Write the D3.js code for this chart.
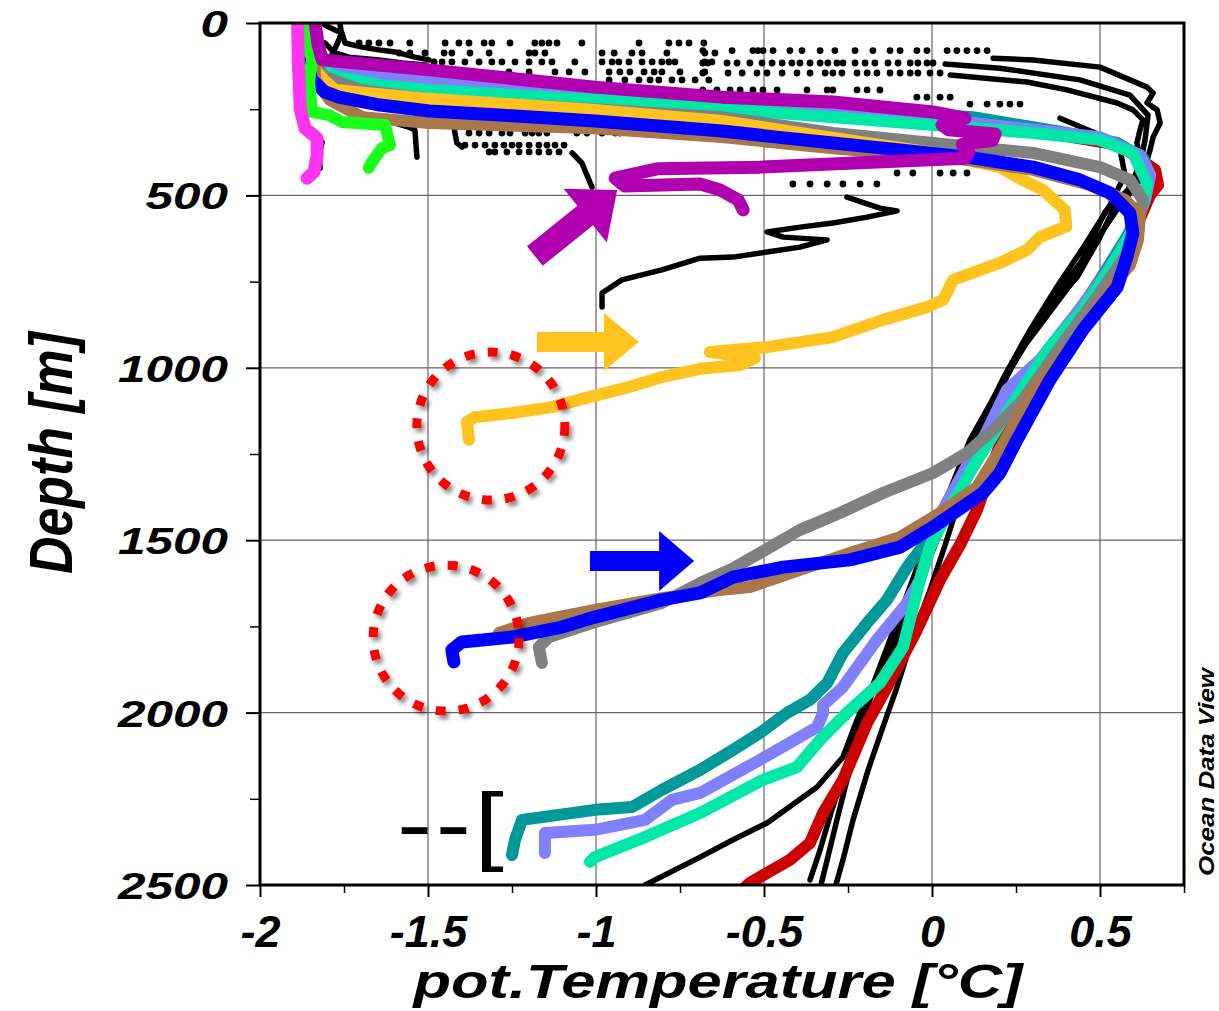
<!DOCTYPE html>
<html>
<head>
<meta charset="utf-8">
<script src="https://cdn.jsdelivr.net/npm/d3@7"></script>
<style>
  body { margin: 0; background: #fff; }
  text { font-family: "Liberation Sans", Arial, sans-serif; font-weight: bold; font-style: italic; }
</style>
</head>
<body>
<div id="chart"></div>
<script>
// axis ticks
var xMajor = [-2, -1.5, -1, -0.5, 0, 0.5];
var xMinor = [-1.75, -1.25, -0.75, -0.25, 0.25, 0.75];
var yMajor = [0, 500, 1000, 1500, 2000, 2500];
var yMinor = [250, 750, 1250, 1750, 2250];

// profiles: [pot. temperature degC, depth m]
var pinkProfile = [[-1.888,0],[-1.886,110],[-1.880,250],[-1.866,305],[-1.830,334],[-1.830,383],[-1.839,432],[-1.860,450]];
var greenProfile = [[-1.854,0],[-1.860,72],[-1.845,101],[-1.854,171],[-1.845,258],[-1.795,267],[-1.756,287],[-1.628,296],[-1.613,354],[-1.637,363],[-1.667,403],[-1.676,420]];
var purpleProfile = [[-1.836,0],[-1.827,64],[-1.815,107],[-1.497,136],[-1.003,186],[-0.625,215],[-0.295,229],[0.003,258],[0.098,276],[0.030,296],[0.050,310],[0.188,322],[0.180,340],[0.090,352],[0.110,375],[0.100,392],[-0.214,405],[-0.512,418],[-0.818,423],[-0.943,450],[-0.914,473],[-0.690,467],[-0.631,484],[-0.577,513],[-0.562,542]];
var tealProfile = [[-1.857,0],[-1.836,64],[-1.807,107],[-1.762,136],[-1.548,171],[-1.003,209],[-0.625,229],[-0.214,252],[0.122,273],[0.402,319],[0.551,348],[0.628,392],[0.649,441],[0.634,513],[0.583,615],[0.5,745],[0.402,890],[0.283,1044],[0.164,1201],[0.083,1325],[0.003,1479],[-0.074,1578],[-0.134,1673],[-0.193,1740],[-0.265,1827],[-0.312,1914],[-0.363,1963],[-0.432,2001],[-0.512,2059],[-0.592,2108],[-0.690,2166],[-0.804,2224],[-0.893,2274],[-1.003,2282],[-1.220,2311],[-1.241,2369],[-1.25,2413]];
var periwinkleProfile = [[-1.845,0],[-1.821,107],[-1.792,142],[-1.497,171],[-1.256,189],[-1.003,215],[-0.625,238],[-0.095,267],[0.173,296],[0.5,331],[0.619,383],[0.649,441],[0.634,513],[0.589,615],[0.515,731],[0.426,847],[0.321,977],[0.223,1064],[0.158,1195],[0.098,1296],[0.024,1427],[-0.036,1615],[-0.074,1682],[-0.164,1789],[-0.265,1926],[-0.324,1978],[-0.324,2001],[-0.342,2042],[-0.512,2137],[-0.690,2233],[-0.774,2253],[-0.854,2311],[-1.003,2340],[-1.152,2349],[-1.152,2407]];
var aquaProfile = [[-1.845,0],[-1.827,107],[-1.792,151],[-1.643,180],[-1.497,194],[-1.003,223],[-0.690,244],[-0.193,281],[0.301,319],[0.5,339],[0.598,377],[0.640,464],[0.628,528],[0.589,615],[0.530,716],[0.449,832],[0.351,940],[0.253,1085],[0.173,1209],[0.122,1288],[0.045,1421],[-0.006,1520],[-0.036,1615],[-0.086,1810],[-0.155,1914],[-0.244,1992],[-0.333,2079],[-0.402,2158],[-0.503,2195],[-0.690,2291],[-0.854,2361],[-1.003,2419],[-1.018,2433]];
var grayProfile = [[-1.851,0],[-1.845,107],[-1.807,157],[-1.702,194],[-1.497,222],[-1.003,250],[-0.625,273],[-0.295,319],[0.003,348],[0.301,377],[0.5,418],[0.589,455],[0.628,513],[0.613,586],[0.574,679],[0.5,783],[0.381,940],[0.271,1093],[0.182,1180],[0.104,1247],[0.003,1305],[-0.146,1363],[-0.274,1421],[-0.393,1470],[-0.512,1537],[-0.601,1586],[-0.690,1624],[-0.804,1682],[-1.012,1740],[-1.140,1781],[-1.170,1810],[-1.161,1856]];
var yellowProfile = [[-1.851,0],[-1.836,136],[-1.810,165],[-1.777,194],[-1.497,220],[-1.003,252],[-0.625,284],[-0.393,319],[-0.193,348],[0.003,377],[0.202,418],[0.253,447],[0.330,484],[0.395,542],[0.400,590],[0.321,621],[0.283,658],[0.202,696],[0.063,745],[0.033,803],[-0.015,824],[-0.146,861],[-0.295,911],[-0.491,940],[-0.661,954],[-0.527,972],[-0.571,992],[-0.690,1003],[-0.804,1027],[-0.902,1056],[-1.021,1085],[-1.131,1114],[-1.25,1131],[-1.360,1143],[-1.384,1157],[-1.378,1209]];
var brownProfile = [[-1.842,0],[-1.836,165],[-1.792,223],[-1.696,273],[-1.497,290],[-1.003,305],[-0.625,331],[-0.295,363],[0.104,397],[0.301,426],[0.470,470],[0.574,513],[0.619,557],[0.613,629],[0.589,702],[0.539,760],[0.440,905],[0.301,1064],[0.202,1238],[0.134,1346],[0.024,1421],[-0.095,1491],[-0.244,1537],[-0.393,1586],[-0.542,1636],[-0.625,1644],[-0.804,1668],[-1.003,1702],[-1.199,1740],[-1.289,1769]];
var blueProfile = [[-1.857,0],[-1.854,136],[-1.845,165],[-1.807,200],[-1.765,215],[-1.643,238],[-1.497,255],[-1.286,267],[-1.003,284],[-0.625,313],[-0.461,331],[-0.295,348],[-0.095,368],[0.104,389],[0.301,418],[0.440,455],[0.530,493],[0.589,551],[0.598,609],[0.580,679],[0.551,766],[0.449,890],[0.351,1035],[0.253,1209],[0.202,1305],[0.152,1363],[0.003,1462],[-0.095,1520],[-0.244,1557],[-0.443,1578],[-0.592,1607],[-0.690,1653],[-0.804,1673],[-1.003,1723],[-1.101,1752],[-1.250,1781],[-1.399,1795],[-1.429,1818],[-1.423,1853]];
var redProfile = [[-1.845,0],[-1.821,113],[-1.667,171],[-1.438,189],[-0.988,218],[-0.393,252],[0.202,296],[0.560,354],[0.664,426],[0.673,470],[0.649,499],[0.604,600],[0.545,716],[0.470,832],[0.381,948],[0.292,1079],[0.202,1224],[0.134,1412],[0.083,1514],[0.024,1615],[-0.045,1760],[-0.134,1926],[-0.193,2030],[-0.265,2195],[-0.324,2291],[-0.363,2378],[-0.423,2427],[-0.542,2494],[-0.560,2510]];

// black station profiles (null = gap where only scattered samples show)
var blackSurfA = [[-1.807,6],[-1.777,20],[-1.756,29],[-1.747,58],[-1.696,70],[-1.646,78],[-1.598,84],[-1.539,99],[-1.497,107]];
var blackSurfB = [[-1.807,58],[-1.777,87],[-1.735,99],[-1.646,107],[-1.577,116],[-1.509,122]];
var blackSurfC = [[-1.762,0],[-1.758,30],[-1.770,60],[-1.785,90],[-1.778,110],[-1.720,118]];
var blackShortA = [[-1.598,290],[-1.557,302],[-1.539,310],[-1.533,389]];
var blackShortB = [[-1.438,290],[-1.423,302],[-1.414,348],[-1.399,360]];
var blackShortC = [[-1.845,325],[-1.815,345],[-1.824,383],[-1.821,421]];
var blackMid = [[-1.071,377],[-1.042,406],[-1.012,476],null,[-0.253,505],[-0.155,537],[-0.104,545],[-0.193,563],[-0.295,580],[-0.393,592],[-0.491,606],[-0.443,621],[-0.312,629],[-0.393,650],[-0.491,664],[-0.592,679],[-0.690,682],[-0.804,716],[-0.923,745],[-0.982,783],[-0.982,824]];
var black1 = [[0.182,102],[0.301,107],[0.5,128],[0.640,186],[0.658,203],[0.640,232],[0.670,252],[0.679,290],[0.658,331],[0.649,368],[0.640,397],[0.619,455],[0.574,513],[0.539,542],[0.5,621],[0.432,737],[0.351,824],[0.301,890],[0.241,986],[0.182,1102],[0.134,1189],[0.092,1288],[0.045,1404],[-0.006,1514],[-0.051,1615],[-0.095,1746],[-0.140,1847],[-0.185,1963],[-0.220,2079],[-0.253,2195],[-0.283,2311],[-0.312,2427],[-0.333,2510]];
var black2 = [[0.054,151],[0.283,171],[0.402,194],[0.551,232],[0.598,252],[0.628,281],[0.619,310],[0.610,348],[0.619,397],[0.604,455],[0.560,528],[0.470,658],[0.381,774],[0.321,861],[0.262,948],[0.211,1050],[0.158,1180],[0.113,1296],[0.077,1398],[0.039,1514],[-0.006,1644],[-0.060,1789],[-0.107,1934],[-0.149,2050],[-0.190,2166],[-0.235,2311],[-0.265,2427],[-0.289,2510]];
var black3 = [[0.381,276],[0.5,325],[0.560,368],[0.574,441],[0.530,528],[0.455,644],[0.366,774],[0.292,890],[0.217,1021],[0.158,1137],[0.098,1282],[0.039,1441],[-0.021,1586],[-0.065,1702],[-0.095,1781],[-0.134,1856],[-0.185,1934],[-0.223,2021],[-0.265,2129],[-0.342,2216],[-0.491,2320],[-0.592,2369],[-0.690,2419],[-0.854,2500]];
var black4 = [[0.039,119],[0.202,131],[0.440,165],[0.589,209],[0.643,267],[0.634,339],[0.619,412],[0.583,484],[0.515,548],[0.411,760],[0.277,934],[0.188,1079],[0.113,1209],[0.054,1354],[0.009,1441],[-0.036,1557],[-0.080,1673],[-0.125,1789],[-0.170,1905],[-0.214,2021],[-0.259,2166],[-0.298,2282],[-0.333,2398],[-0.363,2485]];

// scattered samples in the thermocline, one depth per row
var dotRows = [
  { depth: 58, temps: [-1.705,-1.676,-1.646,-1.613,-1.554,-1.449,-1.408,-1.378,-1.333,-1.310,-1.256,-1.182,-1.161,-1.140,-1.116,-1.042,-0.872,-0.783,-0.753,-0.723,-0.679] },
  { depth: 87, temps: [-1.586,-1.554,-1.509,-1.452,-1.429,-1.375,-1.318,-1.199,-1.182,-1.152,-0.982,-0.946,-0.893,-0.863,-0.789,-0.676,-0.646] },
  { depth: 113, temps: [-1.482,-1.458,-1.429,-1.390,-1.348,-1.310,-1.280,-1.241,-1.199,-1.161,-1.131,-1.063,-0.982,-0.952,-0.932,-0.902,-0.863,-0.833,-0.804,-0.783,-0.765,-0.676,-0.655] },
  { depth: 142, temps: [-1.259,-1.199,-1.122,-1.080,-1.033,-0.961,-0.929,-0.899,-0.857,-0.827,-0.804,-0.750,-0.676] },
  { depth: 165, temps: [-0.961,-0.914,-0.872,-0.839,-0.813,-0.774,-0.744,-0.705,-0.664] },
  { depth: 80, temps: [-0.682,-0.595,-0.533,-0.518,-0.503,-0.473,-0.423,-0.387,-0.333,-0.289,-0.229,-0.176,-0.125,-0.095,-0.045,-0.015,0.045,0.074,0.104,0.134,0.164] },
  { depth: 116, temps: [-0.682,-0.667,-0.610,-0.580,-0.542,-0.506,-0.476,-0.446,-0.417,-0.393,-0.363,-0.333,-0.310,-0.283,-0.265,-0.229,-0.199,-0.170,-0.131,-0.101,-0.065,-0.042,-0.015,0.003] },
  { depth: 145, temps: [-0.682,-0.607,-0.565,-0.521,-0.491,-0.446,-0.402,-0.363,-0.318,-0.295,-0.268,-0.223,-0.193,-0.164,-0.125,-0.095,-0.065,-0.042,-0.006,0.024] },
  { depth: 194, temps: [-0.682,-0.640,-0.601,-0.571,-0.533,-0.503,-0.461,-0.372,-0.312,-0.295,-0.223,-0.193,-0.155] },
  { depth: 215, temps: [-0.045,-0.015,0.024,0.054] },
  { depth: 235, temps: [0.113,0.164,0.202,0.232,0.262] },
  { depth: 319, temps: [-1.378,-1.348,-1.318,-1.280,-1.256,-1.211,-1.190,-1.170,-1.146,-1.057,-1.027,-0.982,-0.943,-0.929,-0.714,-0.693,-0.655] },
  { depth: 354, temps: [-1.390,-1.360,-1.330,-1.301,-1.274,-1.25,-1.229,-1.199,-1.170,-1.146,-1.122,-1.095] },
  { depth: 374, temps: [-1.318,-1.301,-1.265,-1.229,-1.199,-1.170,-1.140,-1.110] },
  { depth: 331, temps: [-0.690,-0.640] },
  { depth: 435, temps: [-0.104,-0.057,0.024,0.063,0.104] },
  { depth: 467, temps: [-0.414,-0.363,-0.312,-0.265,-0.214,-0.164] }
];

// annotations
var arrowNotes = [
  { color: "#b000b0", from: [-1.182, 676], to: [-0.937, 484], shaft: 25, head: 69, headLen: 41 },
  { color: "#ffc31f", from: [-1.176, 925], to: [-0.872, 925], shaft: 20, head: 58, headLen: 35 },
  { color: "#0000ff", from: [-1.018, 1560], to: [-0.708, 1560], shaft: 20, head: 60, headLen: 35 }
];
var circleNotes = [
  { center: [-1.313, 1169], r: 74 },
  { center: [-1.446, 1784], r: 73 }
];
var bracketAnchor = [-1.592, 2411];

var svg = d3.select("#chart").append("svg").attr("width", 1219).attr("height", 1011);
var margin = { top: 23, right: 35, bottom: 126, left: 260 },
  width = 1219 - margin.left - margin.right,
  height = 1011 - margin.top - margin.bottom;

var defs = svg.append("defs");
defs.append("clipPath").attr("id", "plotClip")
  .append("rect").attr("width", width).attr("height", height);
var shadow = defs.append("filter").attr("id", "shadow")
  .attr("x", "-20%").attr("y", "-20%").attr("width", "140%").attr("height", "140%");
shadow.append("feGaussianBlur").attr("in", "SourceAlpha").attr("stdDeviation", 2.2).attr("result", "blur");
shadow.append("feOffset").attr("in", "blur").attr("dx", 3).attr("dy", 4).attr("result", "off");
shadow.append("feFlood").attr("flood-color", "#000").attr("flood-opacity", 0.45);
shadow.append("feComposite").attr("in2", "off").attr("operator", "in").attr("result", "sh");
var merge = shadow.append("feMerge");
merge.append("feMergeNode").attr("in", "sh");
merge.append("feMergeNode").attr("in", "SourceGraphic");

var g = svg.append("g").attr("transform", "translate(" + margin.left + "," + margin.top + ")");

var x = d3.scaleLinear().domain([-2, 0.75]).range([0, width]);
var y = d3.scaleLinear().domain([0, 2500]).range([0, height]);

// grid
g.append("g").selectAll("line").data(xMajor.slice(1)).enter().append("line")
  .attr("x1", function (d) { return x(d); }).attr("x2", function (d) { return x(d); })
  .attr("y1", 0).attr("y2", height)
  .attr("stroke", "#666").attr("stroke-width", 1.2);
g.append("g").selectAll("line").data(yMajor.slice(1, -1)).enter().append("line")
  .attr("y1", function (d) { return y(d); }).attr("y2", function (d) { return y(d); })
  .attr("x1", 0).attr("x2", width)
  .attr("stroke", "#666").attr("stroke-width", 1.2);

var plot = g.append("g").attr("clip-path", "url(#plotClip)");

var line = d3.line()
  .defined(function (d) { return d !== null; })
  .x(function (d) { return x(d[0]); })
  .y(function (d) { return y(d[1]); });

function drawProfile(data, color, w) {
  plot.append("path").datum(data)
    .attr("d", line)
    .attr("fill", "none")
    .attr("stroke", color)
    .attr("stroke-width", w)
    .attr("stroke-linejoin", "round")
    .attr("stroke-linecap", "round");
}

// black stations
[blackSurfA, blackSurfB, blackSurfC, blackShortA, blackShortB, blackShortC, blackMid, black1, black2, black3, black4]
  .forEach(function (p) { drawProfile(p, "#000", 5.5); });

var dots = [];
dotRows.forEach(function (row) {
  row.temps.forEach(function (t) { dots.push([t, row.depth]); });
});
plot.append("g").selectAll("circle").data(dots).enter().append("circle")
  .attr("cx", function (d) { return x(d[0]); })
  .attr("cy", function (d) { return y(d[1]); })
  .attr("r", 3.4)
  .attr("fill", "#000");

// coloured stations
drawProfile(redProfile, "#cc0000", 12);
drawProfile(tealProfile, "#009999", 12);
drawProfile(periwinkleProfile, "#8080ff", 12);
drawProfile(aquaProfile, "#00e8a8", 12);
drawProfile(grayProfile, "#808080", 12);
drawProfile(yellowProfile, "#ffc31f", 12);
drawProfile(brownProfile, "#a8784a", 12);
drawProfile(blueProfile, "#0000ff", 13);
drawProfile(greenProfile, "#1aff1a", 12);
drawProfile(pinkProfile, "#ff33f0", 13);
drawProfile(purpleProfile, "#b000b0", 13);

// arrows
function arrowPoints(a) {
  var x0 = x(a.from[0]), y0 = y(a.from[1]), x1 = x(a.to[0]), y1 = y(a.to[1]);
  var len = Math.sqrt((x1 - x0) * (x1 - x0) + (y1 - y0) * (y1 - y0));
  var ux = (x1 - x0) / len, uy = (y1 - y0) / len;
  var px = -uy, py = ux;
  var bx = x1 - ux * a.headLen, by = y1 - uy * a.headLen;
  var s = a.shaft / 2, h = a.head / 2;
  return [
    [x0 + px * s, y0 + py * s], [bx + px * s, by + py * s], [bx + px * h, by + py * h],
    [x1, y1],
    [bx - px * h, by - py * h], [bx - px * s, by - py * s], [x0 - px * s, y0 - py * s]
  ].map(function (p) { return p.join(","); }).join(" ");
}
g.append("g").selectAll("polygon").data(arrowNotes).enter().append("polygon")
  .attr("points", arrowPoints)
  .attr("fill", function (d) { return d.color; });

// dotted red circles
g.append("g").selectAll("circle").data(circleNotes).enter().append("circle")
  .attr("cx", function (d) { return x(d.center[0]); })
  .attr("cy", function (d) { return y(d.center[1]); })
  .attr("r", function (d) { return d.r; })
  .attr("fill", "none")
  .attr("stroke", "#ff0000")
  .attr("stroke-width", 9)
  .attr("stroke-dasharray", "10 13")
  .attr("filter", "url(#shadow)");

// "--[" mark
g.append("text")
  .attr("transform", "translate(" + x(bracketAnchor[0]) + "," + y(bracketAnchor[1]) + ") scale(1.2,1)")
  .style("font-style", "normal")
  .style("font-weight", "normal")
  .attr("font-size", 88)
  .attr("letter-spacing", 3)
  .attr("fill", "#000")
  .text("--[");

// frame
g.append("rect").attr("width", width).attr("height", height)
  .attr("fill", "none").attr("stroke", "#000").attr("stroke-width", 3);

// x axis
var xAxisG = g.append("g").attr("transform", "translate(0," + height + ")")
  .call(d3.axisBottom(x).tickValues(xMajor).tickSize(12).tickSizeOuter(0)
    .tickFormat(function (d) { return String(d); }));
xAxisG.select(".domain").remove();
xAxisG.selectAll("line").attr("stroke-width", 2);
xAxisG.selectAll("text")
  .attr("y", 62).attr("dy", null)
  .attr("font-size", 45)
  .attr("fill", "#000");
var xMinorG = g.append("g").attr("transform", "translate(0," + height + ")")
  .call(d3.axisBottom(x).tickValues(xMinor).tickSize(8).tickSizeOuter(0).tickFormat(""));
xMinorG.select(".domain").remove();
xMinorG.selectAll("line").attr("stroke-width", 1.5);

// y axis
var yAxisG = g.append("g")
  .call(d3.axisLeft(y).tickValues(yMajor).tickSize(14).tickSizeOuter(0)
    .tickFormat(function (d) { return String(d); }));
yAxisG.select(".domain").remove();
yAxisG.selectAll("line").attr("stroke-width", 2);
yAxisG.selectAll("text")
  .attr("x", -32).attr("dy", 13.5)
  .attr("font-size", 37)
  .attr("fill", "#000")
  .attr("textLength", function (d) { return String(d).length * 27.5; })
  .attr("lengthAdjust", "spacingAndGlyphs");
var yMinorG = g.append("g")
  .call(d3.axisLeft(y).tickValues(yMinor).tickSize(10).tickSizeOuter(0).tickFormat(""));
yMinorG.select(".domain").remove();
yMinorG.selectAll("line").attr("stroke-width", 1.5);

// axis titles
g.append("text")
  .attr("x", 458).attr("y", 975)
  .attr("text-anchor", "middle")
  .attr("font-size", 49)
  .attr("textLength", 609).attr("lengthAdjust", "spacingAndGlyphs")
  .text("pot.Temperature [°C]");

g.append("text")
  .attr("transform", "translate(" + (72 - margin.left) + "," + (453 - margin.top) + ") rotate(-90)")
  .attr("text-anchor", "middle")
  .attr("font-size", 62)
  .attr("textLength", 242).attr("lengthAdjust", "spacingAndGlyphs")
  .text("Depth [m]");

g.append("text")
  .attr("transform", "translate(" + (1214 - margin.left) + "," + (772 - margin.top) + ") rotate(-90)")
  .attr("text-anchor", "middle")
  .attr("font-size", 22)
  .attr("textLength", 208).attr("lengthAdjust", "spacingAndGlyphs")
  .text("Ocean Data View");
</script>
</body>
</html>
